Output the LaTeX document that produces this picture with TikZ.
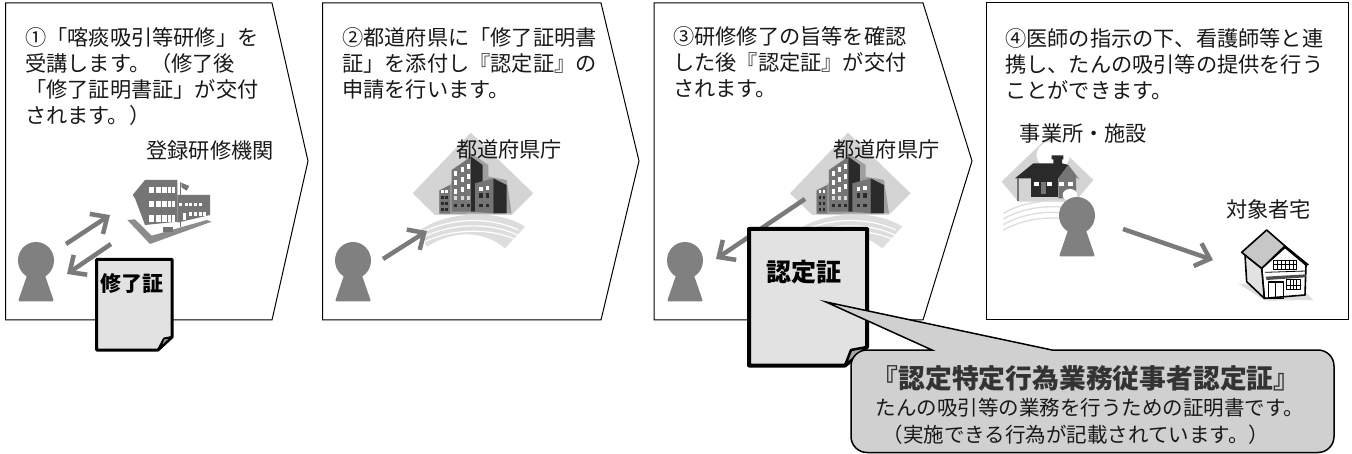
\documentclass[tikz,border=0pt]{standalone}
\usepackage{fontspec}
\setmainfont{Noto Sans CJK JP}
\usetikzlibrary{arrows.meta}
\definecolor{pgray}{HTML}{808080}
\definecolor{docfill}{HTML}{E2E2E2}
\definecolor{callfill}{HTML}{D0D0D0}
\definecolor{darkb}{HTML}{2A2A2A}
\definecolor{midb}{HTML}{757575}
\definecolor{lightd}{HTML}{D4D4D4}
\definecolor{bandc}{HTML}{DDDDDD}
\tikzset{
  panel/.style={draw=black,fill=white,line width=1pt,line join=miter},
  stepline/.style={font=\fontsize{21.2}{26}\selectfont,anchor=north west,inner sep=0pt,align=left,text=black!90},
  placelabel/.style={font=\fontsize{21.2}{26}\selectfont,anchor=center,inner sep=0pt,text=black!90},
  flow/.style={draw=pgray!95!black,line width=4.5pt,-{Straight Barb[length=13pt,width=24pt,line width=4.5pt]}},
  docsheet/.style={draw=black,fill=docfill,line join=round},
  brush/.style={font=\bfseries\fontsize{#1}{#1}\selectfont,inner sep=0pt,text=black},
  pics/person/.style={code={
    \fill[pgray] (0,0) ellipse [x radius=18,y radius=18.5];
    \fill[pgray,rounded corners=2pt] (-8,12) -- (-18,41) -- (18,41) -- (8,12) -- cycle;
  }},
  pics/cityhall/.style={code={
    \begin{scope}[scale=1/3]
    \fill[lightd] (182,8) -- (370,190) -- (305,255) -- (75,255) -- (8,190) -- cycle;
    \fill[bandc] (30,300) .. controls (120,240) and (270,240) .. (345,290) -- (285,355) .. controls (220,300) and (130,300) .. (50,350) -- cycle;
    \foreach \d in {0,16,32} \draw[white,line width=1.2pt] (20,{315+\d}) .. controls (120,{260+\d}) and (240,{260+\d}) .. (325,{300+\d});
    \fill[black!38] (183,70) -- (235,105) -- (235,140) -- (290,150) -- (305,250) -- (88,252) -- (88,180) -- (120,165) -- cycle;
    \fill[midb] (125,120) -- (183,80) -- (183,245) -- (125,245) -- cycle;
    \fill[darkb] (183,80) -- (218,105) -- (218,245) -- (183,245) -- cycle;
    \fill[midb] (88,182) -- (120,165) -- (120,250) -- (88,250) -- cycle;
    \fill[midb] (195,160) -- (250,145) -- (250,250) -- (195,245) -- cycle;
    \fill[darkb] (250,145) -- (290,165) -- (290,250) -- (250,250) -- cycle;
    \foreach \x/\y in {133/123,152/112,170/101,133/150,152/142,170/132,133/178,152/170,170/162}
      \fill[white] (\x,\y) rectangle ++(9,15);
    \foreach \x in {133,152,170} \fill[white!85!black] (\x,197) rectangle ++(9,13);
    \foreach \x in {133,152,170} \fill[darkb] (\x,222) rectangle ++(9,10);
    \foreach \x/\y in {208/170,228/167} \fill[white] (\x,\y) rectangle ++(10,14);
    \foreach \x in {208,228} {\fill[darkb] (\x,190) rectangle ++(10,14); \fill[darkb] (\x,222) rectangle ++(10,10);}
    \foreach \y in {180,198,216,234} \foreach \x in {94,106} \fill[\ifnum\y<190 white\else darkb\fi] (\x,\y) rectangle ++(7,9);
    \end{scope}
  }},
}
\begin{document}
\begin{tikzpicture}[x=1pt,y=-1pt]
\useasboundingbox (0,0) rectangle (1352,454);
% panels
\draw[panel] (5.5,3) -- (272,3) -- (308,161) -- (272,320) -- (5.5,320) -- cycle;
\draw[panel] (322.5,3) -- (601,3) -- (639,161) -- (601,320) -- (322.5,320) -- cycle;
\draw[panel] (654,3) -- (923,3) -- (972,161) -- (923,320) -- (654,320) -- cycle;
\draw[panel] (986.5,3) -- (1348,3) -- (1348,320) -- (986.5,320) -- cycle;
% step texts
\node[stepline] (s1) at (25,27.5) {①「喀痰吸引等研修」を\\受講します。（修了後\\「修了証明書証」が交付\\されます。）};
\node[stepline] (s2) at (342,27.5) {②都道府県に「修了証明書\\証」を添付し『認定証』の\\申請を行います。};
\node[stepline] (s3) at (673,26) {③研修修了の旨等を確認\\した後『認定証』が交付\\されます。};
\node[stepline] (s4) at (1005,28.5) {④医師の指示の下、看護師等と連\\携し、たんの吸引等の提供を行う\\ことができます。};
% school
\begin{scope}[shift={(120,170)},scale=1/3]
  \fill[black!45] (22,150) -- (90,222) -- (275,155) -- (260,150) -- (95,197) -- (45,148) -- cycle;
  \fill[midb] (38,75) -- (75,30) -- (172,30) -- (172,155) -- (75,165) -- (45,85) -- cycle;
  \fill[midb] (172,75) -- (270,75) -- (270,135) -- (172,158) -- cycle;
  \fill[midb] (179,36) rectangle (182,172);
  \fill[midb] (184,38) -- (208,48) -- (200,62) -- (184,52) -- cycle;
  \foreach \y/\h in {50/20,93/18,135/20} \foreach \x/\w in {87/16,107/15,125/15,145/9,156/9} \fill[white] (\x,\y) rectangle ++(\w,\h);
  \foreach \x in {178,194,208,222,236} \fill[white] (\x,98) rectangle ++(9,11);
  \foreach \x in {208,222,236,250} \fill[white] (\x,126) rectangle ++(9,13);
  \fill[white] (190,128) rectangle (198,150);
  \fill[black!55] (130,170) rectangle (160,185);
\end{scope}
\node[placelabel] (l1) at (210,150) {登録研修機関};
% city halls
\pic at (410,130) {cityhall};
\pic at (787.3,130) {cityhall};
\node[placelabel] (l2) at (509,149) {都道府県庁};
\node[placelabel] (l3) at (886.5,149) {都道府県庁};
% facility
\begin{scope}[shift={(990,130)},scale=1/3]
  \fill[lightd] (175,20) -- (310,150) -- (255,215) -- (85,215) -- (35,155) -- cycle;
  \fill[white] (190,75) ellipse [x radius=50,y radius=42];
  \foreach \d in {0,17,34,51} \draw[bandc,line width=1.3pt] (40,{250+\d}) .. controls (90,{220+\d}) and (160,{208+\d}) .. (225,{215+\d});
  \fill[darkb] (75,145) -- (130,100) -- (190,100) -- (190,88) -- (185,88) -- (185,76) -- (220,76) -- (220,88) -- (216,88) -- (216,100) -- (235,105) -- (205,145) -- cycle;
  \fill[midb] (205,145) -- (235,105) -- (268,148) -- (258,140) -- (258,205) -- (205,205) -- cycle;
  \fill[darkb] (122,145) rectangle (205,202);
  \fill[midb] (82,145) rectangle (87,212);
  \fill[midb] (153,155) rectangle (168,192);
  \foreach \x in {133,172,207,235} \fill[white] (\x,155) rectangle ++(14,12);
  \fill[white] (240,195) ellipse [x radius=22,y radius=18];
\end{scope}
\node[placelabel] (l4) at (1083.5,133) {事業所・施設};
% target house
\begin{scope}[shift={(1230,220)},scale=1/3,line join=round]
  \fill[bandc] (25,190) -- (105,242) -- (250,240) -- (225,215) -- cycle;
  \draw[black,line width=1.6pt,fill=white] (95,145) -- (165,82) -- (228,135) -- (225,225) -- (103,235) -- cycle;
  \draw[black,line width=1.6pt,fill=docfill] (45,105) -- (95,145) -- (103,235) -- (50,185) -- cycle;
  \draw[black,line width=1.6pt,fill=black!22] (35,97) -- (110,30) -- (165,78) -- (95,145) -- cycle;
  \draw[black,line width=1.6pt] (165,78) -- (235,135);
  \draw[black,line width=.8pt,fill=white] (130,120) rectangle (198,148);
  \foreach \x in {142,154,166,178,190} \draw[black,line width=1pt] (\x,120) -- (\x,148);
  \draw[black,line width=1pt] (130,133) -- (198,133);
  \fill[black!70] (107,170) -- (228,163) -- (226,172) -- (110,180) -- cycle;
  \draw[black,line width=.8pt] (105,157) -- (228,153);
  \draw[black,line width=1.3pt] (115,186) rectangle (160,235);
  \draw[black,line width=1pt] (137,186) -- (137,235);
  \draw[black,line width=1pt,fill=white] (170,180) rectangle (210,210);
  \foreach \x in {180,190,200} \draw[black,line width=.8pt] (\x,180) -- (\x,210);
  \draw[black,line width=.8pt] (170,195) -- (210,195);
\end{scope}
\node[placelabel] (l5) at (1268.5,209) {対象者宅};
% persons
\pic at (36,260.5) {person};
\pic at (353,260.5) {person};
\pic at (685,260.5) {person};
\pic at (1077,215.5) {person};
% flow ends
\coordinate (a1s) at (66,244); \coordinate (a1e) at (110,215);
\coordinate (a2s) at (111,244); \coordinate (a2e) at (67,274);
\coordinate (a3s) at (383,259); \coordinate (a3e) at (427,231);
\coordinate (a4s) at (805,199); \coordinate (a4e) at (716,259);
\coordinate (a5s) at (1123,229); \coordinate (a5e) at (1213,260);
\draw[flow] (a1s) -- (a1e);
\draw[flow] (a2s) -- (a2e);
\draw[flow] (a3s) -- (a3e);
\draw[flow] (a4s) -- (a4e);
\draw[flow] (a5s) -- (a5e);
% certificates
\draw[docsheet,line width=3pt] (96.5,259.5) -- (172,259.5) -- (172,337) -- (158,350) -- (96.5,350) -- cycle;
\draw[black,line width=2pt,fill=black!35,line join=round] (172,337) -- (164,338.5) -- (158,350) -- cycle;
\node[brush=21] (d1) at (131.5,284) {修了証};
\draw[docsheet,line width=4pt] (749,229) -- (867,229) -- (867,347) -- (845,365.5) -- (749,365.5) -- cycle;
\draw[black,line width=2.5pt,fill=black!35,line join=round] (867,347) -- (851,350) -- (845,365.5) -- cycle;
\node[brush=25] (d2) at (804,272) {認定証};
% callout
\draw[draw=black,fill=callfill,line width=1.5pt] (932,350) -- (826,302) -- (1052,350) [rounded corners=16pt] -- (1334,350) -- (1334,452.5) -- (851,452.5) -- (851,350) [sharp corners] -- (932,350) -- cycle;
\node[brush=26.8,text=black!80] (c1) at (1086,378) {『認定特定行為業務従事者認定証』};
\node[font=\fontsize{20.5}{26}\selectfont,inner sep=0pt,anchor=center,text=black!90] (c2) at (1090,408) {たんの吸引等の業務を行うための証明書です。};
\node[font=\fontsize{20.5}{26}\selectfont,inner sep=0pt,anchor=center,text=black!90] (c3) at (1076,435) {（実施できる行為が記載されています。）};
\end{tikzpicture}
\end{document}
